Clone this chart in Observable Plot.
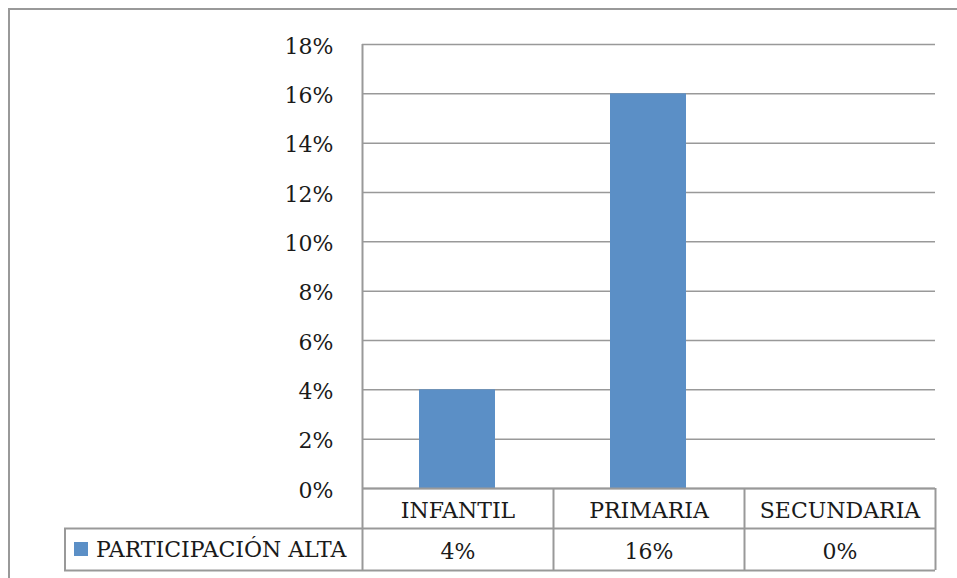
<!DOCTYPE html>
<html>
<head>
<meta charset="utf-8">
<script src="https://cdn.jsdelivr.net/npm/d3@7"></script>
<script src="https://cdn.jsdelivr.net/npm/@observablehq/plot@0.6"></script>
<style>
  html, body { margin: 0; padding: 0; background: #fff; }
  #wrap { position: relative; width: 957px; height: 578px; overflow: hidden; background: #fff; }
  #border { position: absolute; left: 8px; top: 8px; width: 980px; height: 600px;
            border-left: 2px solid #999; border-top: 2px solid #999; box-sizing: border-box; }
  #chart { position: absolute; left: 0; top: 0; }
  #legend { position: absolute; left: 64px; top: 528px; width: 298px; height: 42px;
            border-left: 2px solid #999; box-sizing: border-box;
            font-family: "DejaVu Serif", serif; font-size: 22px; color: #1a1a1a;
            display: flex; align-items: center; }
  #legend .sw { width: 14px; height: 14px; margin-left: 8px; margin-right: 8px; }
</style>
</head>
<body>
<div id="wrap">
  <div id="border"></div>
  <div id="chart"></div>
  <div id="legend"><span class="sw"></span><span class="lbl"></span></div>
</div>
<script>
const categories = ["INFANTIL", "PRIMARIA", "SECUNDARIA"];
const values = [0.04, 0.16, 0.00];
const seriesName = "PARTICIPACIÓN ALTA";
const yTicks = [0, 0.02, 0.04, 0.06, 0.08, 0.10, 0.12, 0.14, 0.16, 0.18];
const barColor = "#5b8fc6";
const lineColor = "#999999";

const data = categories.map((c, i) => ({cat: c, value: values[i]}));
const fmt = d3.format(".0%");

const chart = Plot.plot({
  width: 957,
  height: 578,
  marginLeft: 362,
  marginRight: 22,
  marginTop: 44,
  marginBottom: 90,
  style: {fontFamily: "DejaVu Serif, serif", fontSize: "22px", color: "#1a1a1a", background: "transparent", overflow: "visible"},
  x: {domain: categories, padding: 0, axis: null},
  y: {domain: [0, 0.18], axis: null, label: null},
  marks: [
    Plot.gridY(yTicks, {stroke: lineColor, strokeOpacity: 1, strokeWidth: 1.5}),
    Plot.barY(data, {x: "cat", y: "value", fill: barColor, insetLeft: 57, insetRight: 58}),
    Plot.axisY(yTicks, {tickSize: 0, tickPadding: 29, tickFormat: fmt, fontSize: 22, dy: 2, label: null}),
    // axis line (extends into table)
    Plot.ruleX([categories[0]], {x: d => d, dx: -95.5, stroke: lineColor, strokeWidth: 2, insetBottom: -82}),
    // table column separators
    Plot.ruleX(categories.slice(1), {x: d => d, dx: -95.5, stroke: lineColor, strokeWidth: 2, insetTop: 444, insetBottom: -82}),
    Plot.ruleX([categories[categories.length - 1]], {x: d => d, dx: 95.5, stroke: lineColor, strokeWidth: 2, insetTop: 444, insetBottom: -82}),
    // table horizontal lines
    Plot.ruleY([0], {stroke: lineColor, strokeWidth: 2}),
    Plot.ruleY([0], {dy: 40, stroke: lineColor, strokeWidth: 2, insetLeft: -298}),
    Plot.ruleY([0], {dy: 82, stroke: lineColor, strokeWidth: 2, insetLeft: -298}),
    // table text
    Plot.text(data, {x: "cat", y: 0, text: "cat", dy: 22, fontSize: 22, fill: "#1a1a1a"}),
    Plot.text(data, {x: "cat", y: 0, text: d => fmt(d.value), dy: 63, fontSize: 22, fill: "#1a1a1a"})
  ]
});
document.getElementById("chart").appendChild(chart);
document.querySelector("#legend .sw").style.background = barColor;
document.querySelector("#legend .lbl").textContent = seriesName;
</script>
</body>
</html>
